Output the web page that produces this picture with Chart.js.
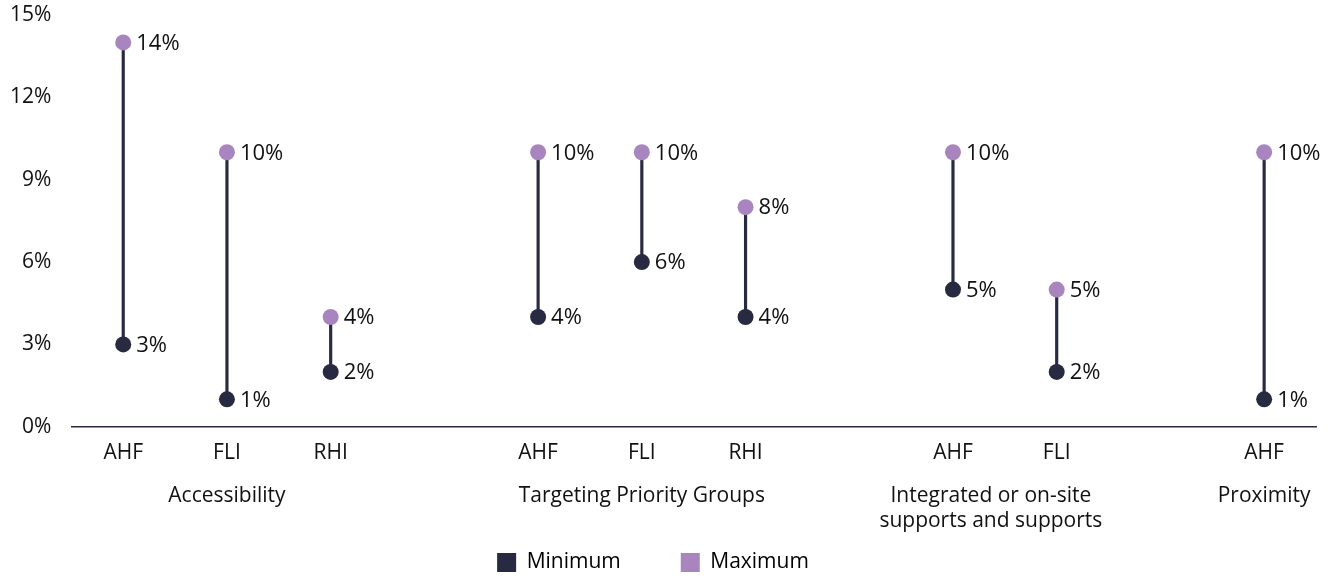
<!DOCTYPE html>
<html>
<head>
<meta charset="utf-8">
<script src="https://cdn.jsdelivr.net/npm/chart.js@4.4.1/dist/chart.umd.min.js"></script>
<style>
  html, body { margin: 0; padding: 0; background: #ffffff; }
  #wrap { width: 1343px; height: 579px; position: relative; }
</style>
</head>
<body>
<div id="wrap"><canvas id="chart"></canvas></div>
<script>
// Slot labels along the x axis ('' marks a spacer slot between groups)
const categories = ['AHF', 'FLI', 'RHI', '', 'AHF', 'FLI', 'RHI', '', 'AHF', 'FLI', '', 'AHF'];

// Group captions and the slots each one spans
const groupNames = [
  ['Accessibility'],
  ['Targeting Priority Groups'],
  ['Integrated or on-site', 'supports and supports'],
  ['Proximity']
];
const groupSlots = [[0, 2], [4, 6], [8, 9], [11, 11]];

// Percent values per slot
const minimum = [3, 1, 2, null, 4, 6, 4, null, 5, 2, null, 1];
const maximum = [14, 10, 4, null, 10, 10, 8, null, 10, 5, null, 10];

// y axis ticks
const yTicks = [0, 3, 6, 9, 12, 15];

const NAVY = '#272a41';
const PURPLE = '#a985bf';
const FONT = '"Open Sans", Lato, sans-serif';

const ranges = minimum.map((v, i) => (v == null || maximum[i] == null) ? null : [v, maximum[i]]);

// Value labels to the right of each dot
const valueLabels = {
  id: 'valueLabels',
  afterDatasetsDraw(chart) {
    const ctx = chart.ctx;
    ctx.save();
    ctx.font = '22px ' + FONT;
    ctx.fillStyle = '#111111';
    ctx.textBaseline = 'middle';
    ctx.textAlign = 'left';
    chart.data.datasets.forEach((ds, di) => {
      if (!ds.showValues) return;
      const meta = chart.getDatasetMeta(di);
      meta.data.forEach((pt, i) => {
        const v = ds.data[i];
        if (v == null) return;
        ctx.fillText(v + '%', pt.x + 13, pt.y + 1);
      });
    });
    ctx.restore();
  }
};

// Group captions under the slot labels
const groupLabels = {
  id: 'groupLabels',
  afterDraw(chart) {
    const x = chart.scales.x;
    const ctx = chart.ctx;
    ctx.save();
    ctx.font = '21px ' + FONT;
    ctx.fillStyle = '#111111';
    ctx.textAlign = 'center';
    ctx.textBaseline = 'middle';
    groupNames.forEach((lines, g) => {
      const [a, b] = groupSlots[g];
      let cx = (x.getPixelForValue(a) + x.getPixelForValue(b)) / 2;
      if (lines.length > 1) cx -= 14;
      lines.forEach((line, k) => {
        ctx.fillText(line, cx, x.top + 69 + k * 25);
      });
    });
    ctx.restore();
  }
};

new Chart(document.getElementById('chart'), {
  type: 'bar',
  data: {
    labels: categories,
    datasets: [
      {
        type: 'bar',
        label: 'range',
        data: ranges,
        backgroundColor: NAVY,
        barThickness: 2.5,
        grouped: false,
        order: 3
      },
      {
        type: 'line',
        label: 'Minimum',
        data: minimum,
        showLine: false,
        pointRadius: 8,
        pointHoverRadius: 8,
        pointBackgroundColor: NAVY,
        pointBorderWidth: 0,
        backgroundColor: NAVY,
        borderColor: NAVY,
        clip: false,
        showValues: true,
        order: 1
      },
      {
        type: 'line',
        label: 'Maximum',
        data: maximum,
        showLine: false,
        pointRadius: 8,
        pointHoverRadius: 8,
        pointBackgroundColor: PURPLE,
        pointBorderWidth: 0,
        backgroundColor: PURPLE,
        borderColor: PURPLE,
        clip: false,
        showValues: true,
        order: 2
      }
    ]
  },
  options: {
    responsive: true,
    maintainAspectRatio: false,
    animation: false,
    layout: { autoPadding: false, padding: { left: -10, right: 27, top: 0, bottom: -4 } },
    scales: {
      x: {
        grid: { display: false, drawTicks: false },
        border: { display: true, color: NAVY, width: 1.5 },
        ticks: {
          color: '#111111',
          font: { family: FONT, size: 21 },
          padding: 14,
          maxRotation: 0,
          autoSkip: false
        },
        afterFit(scale) { scale.height += 12; }
      },
      y: {
        min: 0,
        max: 15,
        afterBuildTicks(scale) { scale.ticks = yTicks.map(v => ({ value: v })); },
        afterFit(scale) { scale.paddingTop = 15; },
        grid: { display: false, drawTicks: false },
        border: { display: false },
        ticks: {
          color: '#111111',
          font: { family: FONT, size: 21 },
          padding: 20,
          callback: v => v + '%'
        }
      }
    },
    plugins: {
      legend: {
        position: 'bottom',
        labels: {
          filter: item => item.text !== 'range',
          color: '#2b2d42',
          font: { family: FONT, size: 21 },
          boxWidth: 19,
          boxHeight: 19,
          padding: 60,
          generateLabels(chart) {
            return chart.data.datasets.map((ds, i) => ({
              text: ds.label,
              fillStyle: ds.backgroundColor,
              strokeStyle: ds.backgroundColor,
              lineWidth: 0,
              datasetIndex: i,
              hidden: false
            }));
          }
        }
      },
      tooltip: { enabled: false }
    }
  },
  plugins: [valueLabels, groupLabels]
});
</script>
</body>
</html>
